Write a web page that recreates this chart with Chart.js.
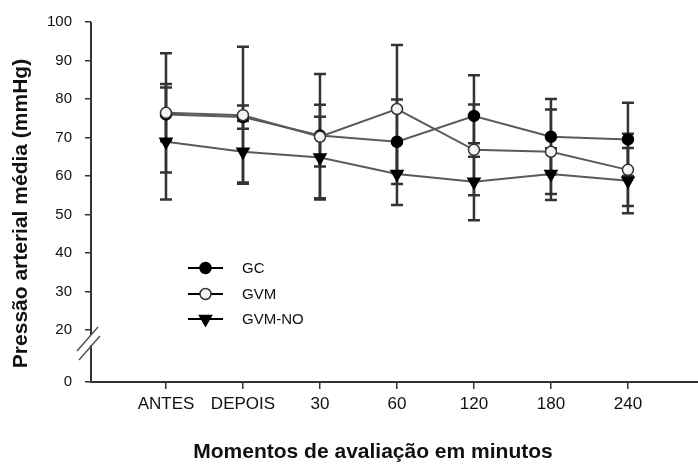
<!DOCTYPE html>
<html>
<head>
<meta charset="utf-8">
<script src="https://cdn.jsdelivr.net/npm/chart.js@4"></script>
<style>
  html, body { margin: 0; padding: 0; background: #ffffff; }
  #wrap { width: 698px; height: 464px; }
</style>
</head>
<body>
<div id="wrap"><canvas id="c" width="698" height="464"></canvas></div>
<script>
// ---- data ----
const categories = ['ANTES', 'DEPOIS', '30', '60', '120', '180', '240'];
const seriesNames = ['GC', 'GVM', 'GVM-NO'];
const gcValues    = [76.0, 75.3, 70.5, 68.9, 75.6, 70.2, 69.5];
const gcErrors    = [7.0, 3.0, 8.0, 11.0, 10.6, 9.8, 9.5];
const gvmValues   = [76.4, 75.8, 70.2, 77.4, 66.8, 66.3, 61.6];
const gvmErrors   = [15.5, 17.8, 16.3, 16.6, 11.8, 11.0, 9.4];
const gvmNoValues = [68.9, 66.3, 64.8, 60.5, 58.5, 60.5, 58.8];
const gvmNoErrors = [15.0, 8.0, 10.6, 8.0, 10.0, 6.7, 8.5];
const yTickValues = [20, 30, 40, 50, 60, 70, 80, 90, 100];
const yZeroLabel = '0';
const yZeroPosition = 6.5;   // where the "0" sits on the broken axis
const xTitle = 'Momentos de avaliação em minutos';
const yTitle = 'Pressão arterial média (mmHg)';

const FONT = "'Liberation Sans', Arial, Helvetica, sans-serif";
const LINE_COLOR = '#5a5a5a';
const BAR_COLOR = '#333333';

const toXY = vals => vals.map((v, i) => ({ x: i, y: v }));

const series = [
  { name: seriesNames[0], values: gcValues, err: gcErrors, style: 'circle', fill: '#000000', border: '#000000', radius: 5.5, rotation: 0 },
  { name: seriesNames[1], values: gvmValues, err: gvmErrors, style: 'circle', fill: '#f4f4f4', border: '#333333', radius: 5.5, rotation: 0 },
  { name: seriesNames[2], values: gvmNoValues, err: gvmNoErrors, style: 'triangle', fill: '#000000', border: '#000000', radius: 7, rotation: 180 }
];
// drawing stack: first dataset ends up on top (GVM over GC)
const drawOrder = [1, 0, 2];

// ---- plugins ----
const errorBars = {
  id: 'errorBars',
  beforeDatasetsDraw(chart) {
    const { ctx, scales: { x, y } } = chart;
    ctx.save();
    ctx.strokeStyle = BAR_COLOR;
    ctx.lineWidth = 2.5;
    series.forEach(s => s.values.forEach((v, i) => {
      const px = x.getPixelForValue(i);
      const top = y.getPixelForValue(v + s.err[i]);
      const bot = y.getPixelForValue(v - s.err[i]);
      ctx.beginPath();
      ctx.moveTo(px, top); ctx.lineTo(px, bot);
      ctx.moveTo(px - 6, top); ctx.lineTo(px + 6, top);
      ctx.moveTo(px - 6, bot); ctx.lineTo(px + 6, bot);
      ctx.stroke();
    }));
    ctx.restore();
  }
};

const brokenAxis = {
  id: 'brokenAxis',
  afterDraw(chart) {
    const { ctx, scales: { y } } = chart;
    const x0 = chart.chartArea.left;
    const yTop = y.getPixelForValue(yTickValues[yTickValues.length - 1]);
    const y20 = y.getPixelForValue(yTickValues[0]);
    const yBot = y.getPixelForValue(yZeroPosition);
    ctx.save();
    ctx.strokeStyle = '#333333';
    ctx.lineWidth = 2;
    ctx.beginPath();
    ctx.moveTo(x0, yTop); ctx.lineTo(x0, y20 + 5);
    ctx.moveTo(x0, y20 + 15); ctx.lineTo(x0, yBot);
    ctx.stroke();
    ctx.strokeStyle = '#555555';
    ctx.lineWidth = 1.5;
    ctx.beginPath();
    ctx.moveTo(x0 - 14, y20 + 21); ctx.lineTo(x0 + 7, y20 - 3);
    ctx.moveTo(x0 - 12, y20 + 30); ctx.lineTo(x0 + 9, y20 + 6);
    ctx.stroke();
    ctx.restore();
  }
};

const titlesAndLegend = {
  id: 'titlesAndLegend',
  afterDraw(chart) {
    const { ctx } = chart;
    ctx.save();
    ctx.fillStyle = '#111111';
    ctx.font = 'bold 21px ' + FONT;
    ctx.textAlign = 'center';
    ctx.textBaseline = 'middle';
    ctx.fillText(xTitle, 373, 452);
    ctx.save();
    ctx.translate(21, 213.5);
    ctx.rotate(-Math.PI / 2);
    ctx.fillText(yTitle, 0, 0);
    ctx.restore();

    // legend
    const ys = [268, 294, 319];
    series.forEach((s, k) => {
      const ly = ys[k];
      ctx.strokeStyle = '#000000';
      ctx.lineWidth = 2;
      ctx.beginPath();
      ctx.moveTo(188, ly); ctx.lineTo(223, ly);
      ctx.stroke();
      ctx.fillStyle = s.fill;
      ctx.strokeStyle = s.border;
      ctx.lineWidth = 1.5;
      ctx.beginPath();
      if (s.style === 'circle') {
        ctx.arc(205.5, ly, s.radius, 0, Math.PI * 2);
      } else {
        const r = s.radius;
        ctx.moveTo(205.5 - r * 0.866, ly - r * 0.5);
        ctx.lineTo(205.5 + r * 0.866, ly - r * 0.5);
        ctx.lineTo(205.5, ly + r);
        ctx.closePath();
      }
      ctx.fill(); ctx.stroke();
      ctx.fillStyle = '#111111';
      ctx.font = '15px ' + FONT;
      ctx.textAlign = 'left';
      ctx.textBaseline = 'middle';
      ctx.fillText(s.name, 242, ly + 1);
    });
    ctx.restore();
  }
};

// ---- chart ----
new Chart(document.getElementById('c'), {
  type: 'line',
  data: {
    datasets: drawOrder.map(k => {
      const s = series[k];
      return {
        label: s.name,
        data: toXY(s.values),
        borderColor: LINE_COLOR,
        borderWidth: 2,
        tension: 0,
        fill: false,
        pointStyle: s.style,
        pointRotation: s.rotation,
        pointRadius: s.radius,
        pointHoverRadius: s.radius,
        pointBackgroundColor: s.fill,
        pointBorderColor: s.border,
        pointBorderWidth: 1.5
      };
    })
  },
  options: {
    responsive: false,
    devicePixelRatio: 1,
    animation: false,
    events: [],
    layout: { autoPadding: false, padding: { top: 22, left: 0, right: 0, bottom: 0 } },
    plugins: { legend: { display: false }, tooltip: { enabled: false } },
    scales: {
      x: {
        type: 'linear',
        min: -0.974,
        max: 6.91,
        afterBuildTicks: scale => { scale.ticks = categories.map((_, i) => ({ value: i })); },
        afterFit: scale => { scale.height = 82; scale.paddingLeft = 0; scale.paddingRight = 0; },
        ticks: {
          callback: v => categories[v],
          color: '#111111',
          font: { family: FONT, size: 17 },
          padding: 5,
          maxRotation: 0,
          autoSkip: false
        },
        grid: { drawOnChartArea: false, drawTicks: true, tickLength: 7, color: '#333333', lineWidth: 1.5 },
        border: { display: true, color: '#333333', width: 2 }
      },
      y: {
        type: 'linear',
        min: yZeroPosition,
        max: 100,
        afterBuildTicks: scale => {
          scale.ticks = [{ value: yZeroPosition }].concat(yTickValues.map(v => ({ value: v })));
        },
        afterFit: scale => { scale.width = 91; },
        ticks: {
          callback: v => (v === yZeroPosition ? yZeroLabel : String(v)),
          color: '#111111',
          font: { family: FONT, size: 15 },
          padding: 13,
          autoSkip: false
        },
        grid: { drawOnChartArea: false, drawTicks: true, tickLength: 6, color: '#333333', lineWidth: 1.5 },
        border: { display: false }
      }
    }
  },
  plugins: [errorBars, brokenAxis, titlesAndLegend]
});
</script>
</body>
</html>
